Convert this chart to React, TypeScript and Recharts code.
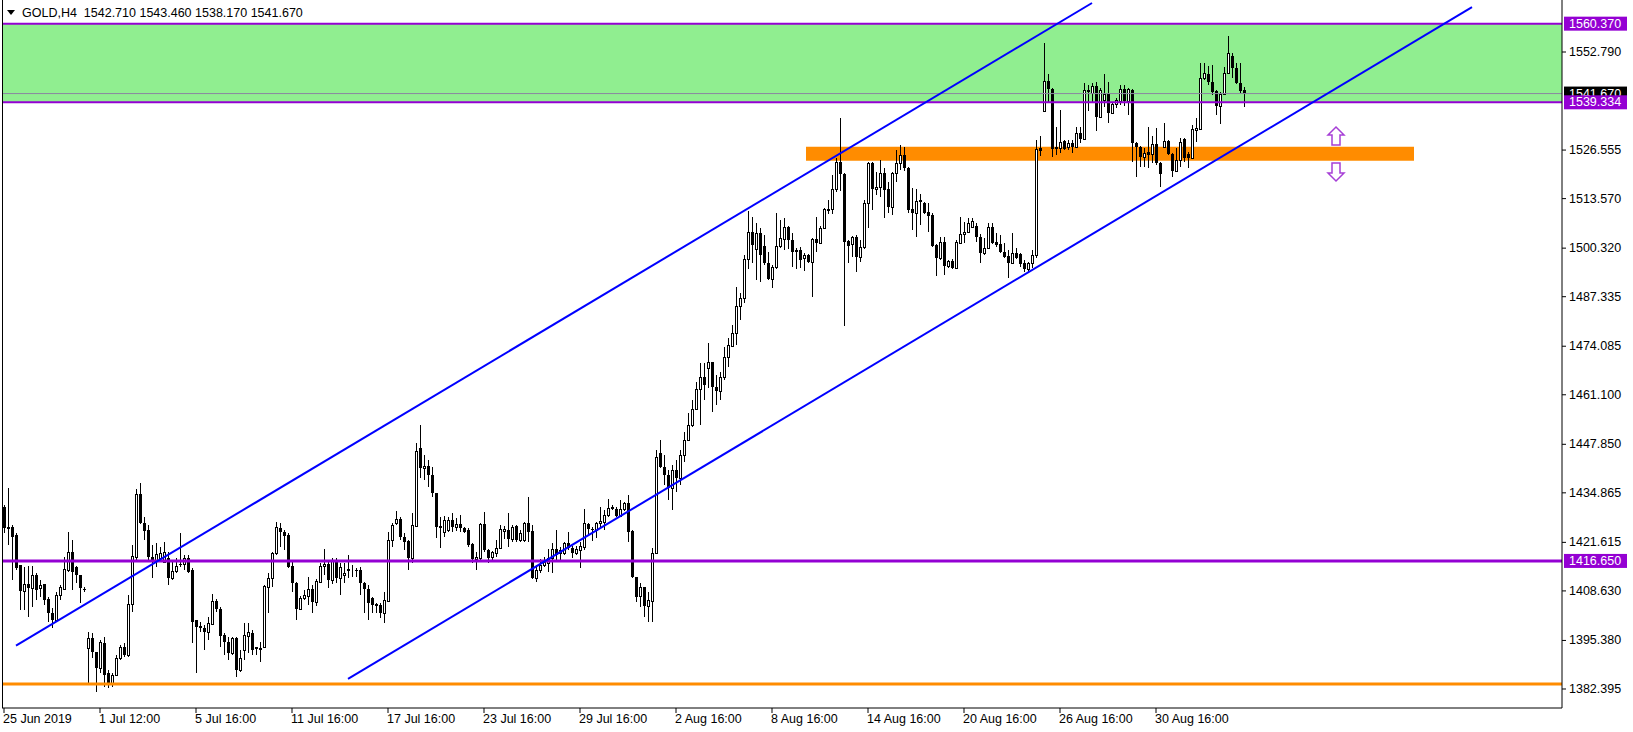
import React from 'react';
import { ComposedChart, Bar, XAxis, YAxis, ReferenceLine, ReferenceArea, ReferenceDot } from 'recharts';

// GOLD H4 candles (oldest first)
const opens = [
  1431.1, 1425.5, 1425.7, 1423.6, 1415.6, 1408.6, 1410.5, 1409.4, 1412.9, 1409.4,
  1410.5, 1406.5, 1402.7, 1400.9, 1407.5, 1409.1, 1414.2, 1419.1, 1415.0, 1412.9,
  1409.1, 1393.4, 1396.0, 1392.3, 1388.0, 1394.7, 1386.7, 1384.0, 1386.1, 1390.7,
  1393.6, 1391.5, 1405.1, 1417.7, 1434.6, 1426.8, 1424.9, 1417.7, 1416.9, 1417.4,
  1416.4, 1417.4, 1412.1, 1413.9, 1415.8, 1415.8, 1417.4, 1414.2, 1400.9, 1399.0,
  1398.7, 1397.6, 1399.8, 1405.9, 1403.8, 1396.8, 1395.0, 1392.0, 1396.0, 1387.5,
  1392.8, 1396.6, 1397.4, 1393.6, 1393.1, 1393.6, 1409.7, 1412.1, 1418.8, 1425.5,
  1424.4, 1423.6, 1415.3, 1410.8, 1403.8, 1406.7, 1407.3, 1409.1, 1405.7, 1411.0,
  1415.3, 1415.8, 1411.6, 1416.9, 1412.1, 1412.9, 1414.2, 1414.2, 1414.3, 1414.1,
  1410.8, 1409.1, 1406.7, 1405.1, 1404.9, 1402.7, 1405.9, 1422.3, 1426.8, 1427.9,
  1423.0, 1422.0, 1417.4, 1426.0, 1446.9, 1441.5, 1442.0, 1439.6, 1434.8, 1426.0,
  1424.4, 1424.9, 1427.6, 1425.7, 1426.5, 1425.5, 1424.9, 1421.2, 1417.2, 1417.4,
  1426.5, 1419.6, 1417.7, 1418.8, 1420.1, 1424.7, 1424.9, 1422.5, 1426.0, 1422.3,
  1422.3, 1426.8, 1424.7, 1412.1, 1414.2, 1415.6, 1416.1, 1417.4, 1419.9, 1418.8,
  1418.8, 1421.4, 1420.1, 1418.8, 1419.6, 1420.4, 1426.5, 1425.2, 1424.9, 1426.8,
  1427.1, 1429.0, 1430.8, 1430.5, 1428.7, 1430.5, 1432.2, 1424.7, 1412.4, 1407.3,
  1409.7, 1404.6, 1405.9, 1418.8, 1445.5, 1441.8, 1439.6, 1436.2, 1441.0, 1438.8,
  1445.0, 1449.0, 1453.0, 1457.3, 1462.6, 1465.9, 1468.3, 1469.9, 1463.2, 1462.1,
  1465.9, 1471.2, 1474.1, 1477.6, 1484.8, 1487.0, 1497.4, 1504.6, 1500.1, 1504.4,
  1500.9, 1496.3, 1492.1, 1495.3, 1500.9, 1502.8, 1506.0, 1502.5, 1499.8, 1499.8,
  1497.7, 1498.5, 1496.6, 1502.8, 1501.7, 1505.7, 1510.5, 1510.8, 1516.1, 1523.4,
  1520.2, 1502.2, 1501.4, 1503.3, 1497.9, 1500.6, 1512.4, 1523.1, 1516.1, 1516.7,
  1520.4, 1516.1, 1511.3, 1520.4, 1523.1, 1525.2, 1521.8, 1510.8, 1509.7, 1512.9,
  1512.4, 1510.0, 1509.2, 1501.2, 1497.7, 1502.0, 1495.5, 1496.9, 1495.0, 1501.7,
  1504.1, 1504.6, 1506.0, 1506.2, 1503.3, 1499.0, 1500.4, 1506.0, 1502.0, 1501.4,
  1499.3, 1498.2, 1496.3, 1499.0, 1498.8, 1496.3, 1494.7, 1496.3, 1498.5, 1527.1,
  1537.0, 1545.0, 1542.9, 1527.4, 1527.1, 1529.0, 1527.4, 1528.4, 1527.4, 1531.1,
  1529.5, 1542.6, 1541.8, 1543.7, 1535.4, 1540.0, 1541.6, 1536.5, 1538.9, 1539.7,
  1542.9, 1539.7, 1542.6, 1528.4, 1527.4, 1524.7, 1526.0, 1525.5, 1528.2, 1523.1,
  1527.4, 1529.0, 1525.5, 1521.0, 1523.9, 1529.5, 1525.5, 1524.4, 1531.9, 1532.2,
  1545.8, 1546.9, 1544.8, 1542.4, 1538.3, 1541.6, 1547.2, 1551.7, 1548.5, 1544.5,
  1542.71,
];

const highs = [
  1431.6, 1436.2, 1426.3, 1424.1, 1415.6, 1415.0, 1415.3, 1415.3, 1413.4, 1411.6,
  1410.5, 1407.0, 1404.1, 1408.3, 1410.2, 1417.7, 1424.4, 1422.3, 1415.3, 1412.9,
  1409.7, 1397.6, 1397.4, 1392.3, 1395.5, 1396.3, 1387.5, 1386.7, 1391.5, 1394.2,
  1394.7, 1407.5, 1420.9, 1435.9, 1437.5, 1428.4, 1426.3, 1420.9, 1421.4, 1420.4,
  1421.7, 1419.1, 1416.9, 1417.4, 1424.1, 1418.2, 1418.2, 1414.8, 1400.9, 1400.3,
  1399.5, 1401.7, 1407.8, 1406.5, 1404.3, 1397.4, 1396.3, 1396.3, 1396.3, 1392.8,
  1400.0, 1400.0, 1398.2, 1393.6, 1395.0, 1410.2, 1413.4, 1419.1, 1427.1, 1426.8,
  1424.9, 1424.1, 1416.9, 1411.0, 1407.3, 1408.9, 1412.4, 1410.2, 1411.8, 1416.1,
  1419.9, 1416.4, 1417.4, 1417.4, 1416.1, 1416.1, 1418.2, 1415.6, 1414.8, 1415.0,
  1411.0, 1410.2, 1407.0, 1405.4, 1405.4, 1408.3, 1424.4, 1426.8, 1430.0, 1428.4,
  1424.1, 1422.3, 1429.5, 1448.2, 1453.0, 1445.0, 1443.7, 1441.8, 1434.8, 1428.4,
  1428.7, 1428.4, 1429.5, 1428.1, 1429.0, 1425.7, 1425.5, 1421.4, 1419.1, 1426.8,
  1429.7, 1419.9, 1419.3, 1422.3, 1426.3, 1426.0, 1429.5, 1426.3, 1426.3, 1424.9,
  1427.1, 1433.8, 1426.3, 1415.6, 1417.2, 1417.7, 1419.9, 1421.4, 1424.9, 1420.4,
  1421.7, 1424.4, 1420.6, 1420.6, 1421.7, 1430.5, 1426.8, 1425.7, 1427.1, 1431.1,
  1430.3, 1433.2, 1431.6, 1431.1, 1433.0, 1432.4, 1434.3, 1424.9, 1412.4, 1410.8,
  1409.7, 1408.3, 1420.1, 1446.3, 1449.0, 1445.0, 1441.0, 1442.3, 1443.7, 1446.3,
  1451.1, 1456.2, 1459.7, 1464.5, 1469.6, 1469.6, 1474.9, 1469.9, 1466.4, 1467.2,
  1473.9, 1476.3, 1479.8, 1489.9, 1488.3, 1498.5, 1510.3, 1508.7, 1507.0, 1505.7,
  1503.8, 1499.3, 1495.8, 1509.7, 1507.9, 1508.4, 1506.2, 1504.4, 1500.4, 1500.6,
  1499.0, 1498.8, 1503.0, 1508.7, 1506.2, 1511.1, 1513.2, 1519.9, 1524.4, 1535.1,
  1520.4, 1502.5, 1503.6, 1503.8, 1502.5, 1513.2, 1523.4, 1523.4, 1520.7, 1523.9,
  1521.8, 1518.0, 1520.7, 1526.6, 1527.9, 1527.4, 1522.0, 1516.4, 1516.1, 1514.8,
  1512.7, 1512.4, 1509.7, 1501.4, 1503.3, 1503.3, 1497.2, 1497.4, 1502.5, 1508.7,
  1507.3, 1508.4, 1508.4, 1507.0, 1504.1, 1503.0, 1507.0, 1507.0, 1504.4, 1503.8,
  1501.7, 1499.8, 1504.4, 1500.4, 1499.0, 1497.2, 1496.6, 1499.8, 1529.2, 1530.3,
  1555.2, 1546.9, 1543.2, 1532.7, 1537.3, 1529.2, 1529.2, 1529.2, 1532.7, 1532.7,
  1544.5, 1544.0, 1544.5, 1544.8, 1543.2, 1546.9, 1544.8, 1539.4, 1540.5, 1544.0,
  1544.0, 1543.2, 1542.9, 1528.7, 1527.6, 1527.1, 1532.7, 1530.3, 1532.5, 1523.4,
  1533.8, 1529.2, 1525.8, 1527.1, 1529.8, 1529.8, 1526.0, 1533.3, 1535.1, 1549.9,
  1549.9, 1549.0, 1549.3, 1542.6, 1542.1, 1548.8, 1557.1, 1552.5, 1549.9, 1549.9,
  1543.46,
];

const lows = [
  1424.1, 1420.9, 1411.6, 1414.2, 1403.5, 1403.5, 1401.7, 1404.3, 1406.2, 1407.0,
  1404.9, 1400.3, 1398.7, 1400.3, 1406.2, 1408.9, 1413.7, 1408.9, 1410.8, 1405.4,
  1408.3, 1384.0, 1390.7, 1381.6, 1386.7, 1382.9, 1382.6, 1382.9, 1385.8, 1390.2,
  1390.9, 1390.9, 1403.0, 1416.9, 1426.5, 1422.3, 1416.9, 1412.1, 1415.0, 1416.9,
  1416.1, 1410.2, 1411.6, 1413.4, 1415.0, 1414.2, 1413.4, 1394.7, 1386.7, 1397.6,
  1392.8, 1395.5, 1399.5, 1403.0, 1393.6, 1391.5, 1390.2, 1391.5, 1385.6, 1386.9,
  1390.2, 1392.0, 1391.5, 1391.5, 1389.6, 1393.4, 1402.7, 1409.7, 1418.2, 1420.4,
  1419.6, 1414.8, 1408.3, 1400.9, 1403.5, 1406.2, 1404.9, 1402.7, 1404.6, 1410.8,
  1412.9, 1409.4, 1410.5, 1410.8, 1407.5, 1410.8, 1412.1, 1412.4, 1412.4, 1407.5,
  1402.7, 1400.9, 1402.7, 1402.7, 1401.4, 1400.0, 1405.7, 1420.4, 1426.3, 1422.3,
  1419.6, 1414.2, 1416.1, 1425.7, 1438.8, 1438.3, 1436.4, 1433.8, 1422.8, 1420.1,
  1423.0, 1424.4, 1424.4, 1424.7, 1424.4, 1424.1, 1420.4, 1416.1, 1414.2, 1416.9,
  1419.1, 1416.1, 1416.9, 1417.7, 1419.9, 1422.5, 1420.4, 1421.7, 1421.7, 1421.7,
  1421.7, 1421.7, 1411.8, 1411.0, 1413.4, 1415.0, 1413.7, 1413.4, 1416.9, 1416.9,
  1418.2, 1419.6, 1417.4, 1418.2, 1414.8, 1419.6, 1423.6, 1422.0, 1422.8, 1425.7,
  1424.9, 1428.4, 1430.3, 1428.4, 1428.4, 1430.0, 1421.7, 1412.1, 1405.7, 1404.3,
  1401.7, 1400.3, 1400.3, 1418.5, 1441.5, 1437.0, 1433.0, 1430.3, 1435.1, 1437.0,
  1443.1, 1448.7, 1452.5, 1457.0, 1453.0, 1459.7, 1462.9, 1456.5, 1458.4, 1459.7,
  1465.1, 1468.5, 1473.9, 1474.4, 1481.1, 1485.6, 1494.7, 1496.3, 1491.8, 1491.3,
  1495.8, 1491.8, 1489.7, 1494.8, 1500.4, 1499.8, 1500.1, 1495.3, 1494.7, 1495.0,
  1494.2, 1496.3, 1487.3, 1499.3, 1501.4, 1505.4, 1509.5, 1509.5, 1515.3, 1515.6,
  1479.5, 1496.3, 1497.9, 1493.9, 1496.6, 1500.1, 1505.7, 1510.5, 1514.5, 1514.0,
  1508.4, 1509.7, 1509.2, 1518.0, 1521.2, 1521.0, 1509.7, 1505.2, 1503.3, 1506.5,
  1509.4, 1504.6, 1500.6, 1492.9, 1497.2, 1493.1, 1495.0, 1494.7, 1494.7, 1501.4,
  1501.7, 1504.4, 1505.7, 1502.0, 1496.3, 1498.5, 1500.1, 1501.4, 1500.6, 1499.0,
  1497.7, 1492.3, 1496.0, 1497.4, 1495.3, 1493.9, 1493.7, 1495.0, 1497.7, 1525.0,
  1536.7, 1539.1, 1524.7, 1525.2, 1525.8, 1526.6, 1526.6, 1525.8, 1527.1, 1528.4,
  1529.2, 1537.0, 1539.4, 1531.7, 1535.1, 1538.1, 1533.8, 1536.2, 1537.8, 1538.6,
  1538.3, 1535.9, 1523.4, 1519.4, 1522.0, 1522.0, 1521.8, 1523.1, 1522.6, 1516.7,
  1527.1, 1525.2, 1519.4, 1520.7, 1522.0, 1523.4, 1521.8, 1524.1, 1528.7, 1531.9,
  1545.3, 1544.0, 1541.3, 1535.9, 1533.5, 1541.3, 1546.9, 1545.8, 1544.3, 1541.8,
  1538.17,
];

const closes = [
  1425.5, 1425.7, 1423.0, 1414.8, 1408.6, 1410.5, 1409.4, 1412.9, 1408.9, 1410.2,
  1406.2, 1402.7, 1400.9, 1407.5, 1409.7, 1414.5, 1419.1, 1413.7, 1412.9, 1409.4,
  1409.0, 1396.0, 1392.3, 1388.0, 1395.0, 1386.1, 1384.0, 1386.1, 1390.7, 1393.6,
  1391.5, 1405.1, 1418.0, 1434.6, 1426.8, 1424.7, 1417.7, 1416.9, 1418.5, 1418.8,
  1419.1, 1412.1, 1413.9, 1415.3, 1415.7, 1417.4, 1413.7, 1400.3, 1399.0, 1399.3,
  1397.6, 1400.0, 1405.9, 1403.8, 1396.6, 1395.0, 1392.0, 1396.0, 1387.5, 1390.7,
  1396.8, 1397.6, 1392.8, 1393.1, 1393.4, 1409.9, 1412.1, 1418.8, 1425.7, 1424.4,
  1423.3, 1415.0, 1410.8, 1403.8, 1406.7, 1407.5, 1409.1, 1405.7, 1411.3, 1415.3,
  1415.8, 1411.6, 1416.9, 1412.1, 1415.0, 1413.4, 1414.5, 1414.3, 1414.1, 1410.8,
  1409.1, 1405.4, 1404.9, 1404.6, 1402.7, 1406.2, 1422.3, 1426.3, 1427.9, 1423.0,
  1421.7, 1417.4, 1426.3, 1446.1, 1441.5, 1442.0, 1439.6, 1434.8, 1425.7, 1425.5,
  1427.6, 1427.6, 1425.7, 1426.5, 1425.5, 1424.4, 1420.9, 1417.2, 1417.7, 1426.5,
  1419.6, 1417.4, 1419.1, 1420.1, 1425.2, 1425.2, 1422.5, 1425.7, 1422.3, 1424.1,
  1426.8, 1424.4, 1412.1, 1414.2, 1415.6, 1416.4, 1417.4, 1419.9, 1418.2, 1419.6,
  1421.4, 1420.1, 1418.8, 1419.9, 1420.6, 1426.8, 1425.2, 1424.9, 1426.8, 1427.3,
  1429.0, 1430.8, 1431.1, 1428.7, 1430.5, 1432.2, 1424.4, 1412.4, 1407.0, 1409.7,
  1404.6, 1406.2, 1418.8, 1444.4, 1441.8, 1439.6, 1436.2, 1441.0, 1438.8, 1445.0,
  1449.0, 1453.0, 1457.3, 1462.6, 1465.9, 1463.7, 1469.9, 1463.2, 1462.1, 1465.9,
  1471.2, 1474.4, 1477.6, 1484.8, 1487.0, 1497.4, 1504.6, 1501.2, 1504.4, 1498.5,
  1496.3, 1492.1, 1495.3, 1500.9, 1503.0, 1506.0, 1502.5, 1499.3, 1499.3, 1497.2,
  1498.5, 1496.6, 1502.8, 1501.7, 1505.7, 1510.8, 1510.9, 1516.1, 1523.4, 1520.2,
  1502.0, 1500.9, 1503.3, 1497.9, 1500.6, 1512.4, 1523.1, 1516.1, 1516.7, 1520.4,
  1515.9, 1511.3, 1520.4, 1523.1, 1525.2, 1521.8, 1510.5, 1509.7, 1512.9, 1513.2,
  1509.7, 1508.9, 1500.9, 1497.7, 1502.0, 1495.5, 1496.9, 1495.0, 1502.0, 1504.1,
  1504.6, 1507.0, 1507.6, 1503.3, 1499.0, 1500.4, 1506.0, 1501.7, 1501.2, 1499.3,
  1497.9, 1496.3, 1499.0, 1497.7, 1496.1, 1494.7, 1496.3, 1498.5, 1526.8, 1526.3,
  1545.0, 1542.9, 1526.8, 1526.8, 1528.7, 1526.8, 1528.4, 1527.4, 1531.1, 1529.5,
  1542.6, 1542.1, 1543.7, 1535.4, 1542.6, 1541.6, 1536.5, 1538.9, 1540.0, 1542.9,
  1539.7, 1542.9, 1528.4, 1527.4, 1524.7, 1525.8, 1525.2, 1528.2, 1523.1, 1520.2,
  1529.0, 1525.5, 1521.0, 1523.9, 1528.7, 1524.4, 1524.4, 1532.2, 1532.5, 1545.8,
  1547.2, 1544.8, 1542.1, 1538.3, 1541.6, 1547.2, 1552.5, 1548.5, 1544.5, 1542.4,
  1541.67,
];

// time axis: a label every 24 bars
const tickBars = [0, 24, 48, 72, 96, 120, 144, 168, 192, 216, 240, 264, 288];
const tickLabels = [
  '25 Jun 2019', '1 Jul 12:00', '5 Jul 16:00', '11 Jul 16:00', '17 Jul 16:00',
  '23 Jul 16:00', '29 Jul 16:00', '2 Aug 16:00', '8 Aug 16:00', '14 Aug 16:00',
  '20 Aug 16:00', '26 Aug 16:00', '30 Aug 16:00',
];
const priceTicks = [
  1552.79, 1526.555, 1513.57, 1500.32, 1487.335, 1474.085, 1461.1,
  1447.85, 1434.865, 1421.615, 1408.63, 1395.38, 1382.395,
];

// drawn objects
const zoneTop = 1560.37;
const zoneBottom = 1539.334;
const supportLevel = 1416.65;
const floorLevel = 1383.7;
const bidPrice = 1541.67;
const bandPrices = [1523.7, 1527.45];
const bandBars = [201, 352];
const upperChannel = [{ x: 3, y: 1394.0 }, { x: 272, y: 1565.9 }];
const lowerChannel = [{ x: 86, y: 1385.1 }, { x: 367, y: 1564.8 }];
const arrowMarks = [
  { bar: 333, price: 1530.3, dir: 'up' },
  { bar: 333, price: 1520.7, dir: 'down' },
];
const headerOhlc = [1542.71, 1543.46, 1538.17, 1541.67];

const SLOTS = 390; // bars + empty shift space on the right
const FONT = '"Liberation Sans", Arial, sans-serif';
const PURPLE = '#9400D3';

const rows = Array.from({ length: SLOTS }, (_, i) =>
  i < opens.length
    ? { i, open: opens[i], high: highs[i], low: lows[i], close: closes[i], range: [lows[i], highs[i]] }
    : { i, range: null }
);

function Candle(props: any) {
  const { x, y, height, payload } = props;
  if (!payload || payload.high == null) return null;
  const top = Math.min(y, y + height);
  const h = Math.abs(height);
  const { open, high, low, close } = payload;
  const px = (v: number) => top + (high === low ? 0 : ((high - v) / (high - low)) * h);
  const bx = Math.round(x);
  const yHi = Math.round(top);
  const yLo = Math.round(top + h);
  const bTop = Math.round(px(Math.max(open, close)));
  const bBot = Math.round(px(Math.min(open, close)));
  const up = close >= open;
  return (
    <g>
      <rect x={bx + 1} y={yHi} width={1} height={Math.max(1, yLo - yHi)} fill="#000" />
      {up ? (
        <rect x={bx + 0.5} y={bTop + 0.5} width={2} height={Math.max(0, bBot - bTop)} fill="#fff" stroke="#000" strokeWidth={1} />
      ) : (
        <rect x={bx} y={bTop} width={3} height={Math.max(1, bBot - bTop)} fill="#000" />
      )}
    </g>
  );
}

const PriceTag = (props: any) => {
  const { viewBox, value, bg } = props;
  if (!viewBox) return null;
  const x = viewBox.x + viewBox.width + 2;
  const y = viewBox.y;
  return (
    <g>
      <rect x={x} y={y - 7} width={63} height={14} fill={bg} />
      <text x={x + 5} y={y} dominantBaseline="central" fill="#fff" fontSize={12.5} fontFamily={FONT}>
        {value.toFixed(3)}
      </text>
    </g>
  );
};

const TimeTick = (props: any) => {
  const { x, y, payload } = props;
  const k = tickBars.indexOf(payload.value);
  return (
    <text x={x - 1} y={y + 4} dominantBaseline="central" textAnchor="start" fontSize={12.5} fontFamily={FONT} fill="#000">
      {k >= 0 ? tickLabels[k] : ''}
    </text>
  );
};

const PriceTick = (props: any) => {
  const { x, y, payload } = props;
  return (
    <text x={x} y={y} dominantBaseline="central" textAnchor="start" fontSize={12.5} fontFamily={FONT} fill="#000">
      {Number(payload.value).toFixed(3)}
    </text>
  );
};

const Arrow = (props: any) => {
  const { cx, cy, dir } = props;
  if (cx == null || cy == null) return null;
  const s = dir === 'up' ? 1 : -1;
  const pts = [[0, -9], [8, -1], [4, -1], [4, 9], [-4, 9], [-4, -1], [-8, -1]]
    .map(([dx, dy]) => `${cx + dx},${cy + dy * s}`)
    .join(' ');
  return <polygon points={pts} fill="#fff" stroke="#a63fd6" strokeWidth={1.5} />;
};

export default function App() {
  return (
    <div style={{ position: 'absolute', left: 0, top: 0, width: 1633, height: 732, background: '#fff' }}>
      <ComposedChart
        width={1633}
        height={732}
        data={rows}
        margin={{ top: 0, right: 0, bottom: 0, left: 2 }}
        barGap={0}
        barCategoryGap={0}
      >
        <XAxis
          dataKey="i"
          type="category"
          ticks={tickBars}
          interval={0}
          height={24}
          tickSize={5}
          axisLine={{ stroke: '#000' }}
          tickLine={{ stroke: '#000' }}
          tick={<TimeTick />}
        />
        <YAxis
          orientation="right"
          type="number"
          width={71}
          domain={[1377.31, 1566.7]}
          allowDataOverflow
          ticks={priceTicks}
          interval={0}
          tickSize={4}
          tickMargin={3}
          axisLine={{ stroke: '#000' }}
          tickLine={{ stroke: '#000' }}
          tick={<PriceTick />}
        />

        <ReferenceArea y1={zoneBottom} y2={zoneTop} fill="#90EE90" fillOpacity={1} stroke="none" zIndex={50} />
        <ReferenceArea
          x1={bandBars[0]}
          x2={bandBars[1]}
          y1={bandPrices[0]}
          y2={bandPrices[1]}
          fill="#FF8C00"
          fillOpacity={1}
          stroke="none"
          zIndex={60}
        />

        <Bar dataKey="range" barSize={3} isAnimationActive={false} shape={(p: any) => <Candle {...p} />} />

        <ReferenceLine y={floorLevel} stroke="#FF8C00" strokeWidth={3} zIndex={450} />
        <ReferenceLine y={supportLevel} stroke={PURPLE} strokeWidth={3} zIndex={450}
          label={<PriceTag value={supportLevel} bg={PURPLE} />} />
        <ReferenceLine y={bidPrice} stroke="#8a86a0" strokeWidth={1} zIndex={450}
          label={<PriceTag value={bidPrice} bg="#000" />} />
        <ReferenceLine y={zoneTop} stroke={PURPLE} strokeWidth={2} zIndex={450}
          label={<PriceTag value={zoneTop} bg={PURPLE} />} />
        <ReferenceLine y={zoneBottom} stroke={PURPLE} strokeWidth={2} zIndex={450}
          label={<PriceTag value={zoneBottom} bg={PURPLE} />} />
        <ReferenceLine segment={upperChannel} stroke="#0000FF" strokeWidth={2} zIndex={460} />
        <ReferenceLine segment={lowerChannel} stroke="#0000FF" strokeWidth={2} zIndex={460} />

        {arrowMarks.map((a) => (
          <ReferenceDot key={a.dir} x={a.bar} y={a.price} r={8} zIndex={600}
            shape={(p: any) => <Arrow {...p} dir={a.dir} />} />
        ))}
      </ComposedChart>

      <div style={{ position: 'absolute', left: 2, top: 0, width: 1, height: 708, background: '#000' }} />
      <svg style={{ position: 'absolute', left: 7, top: 10 }} width={9} height={6}>
        <polygon points="0,0 8,0 4,5" fill="#000" />
      </svg>
      <div
        style={{
          position: 'absolute', left: 22, top: 4, fontFamily: FONT, fontSize: 12.5,
          lineHeight: '18px', whiteSpace: 'pre', color: '#000',
        }}
      >
        {'GOLD,H4  ' + headerOhlc.map((v) => v.toFixed(3)).join(' ')}
      </div>
    </div>
  );
}
